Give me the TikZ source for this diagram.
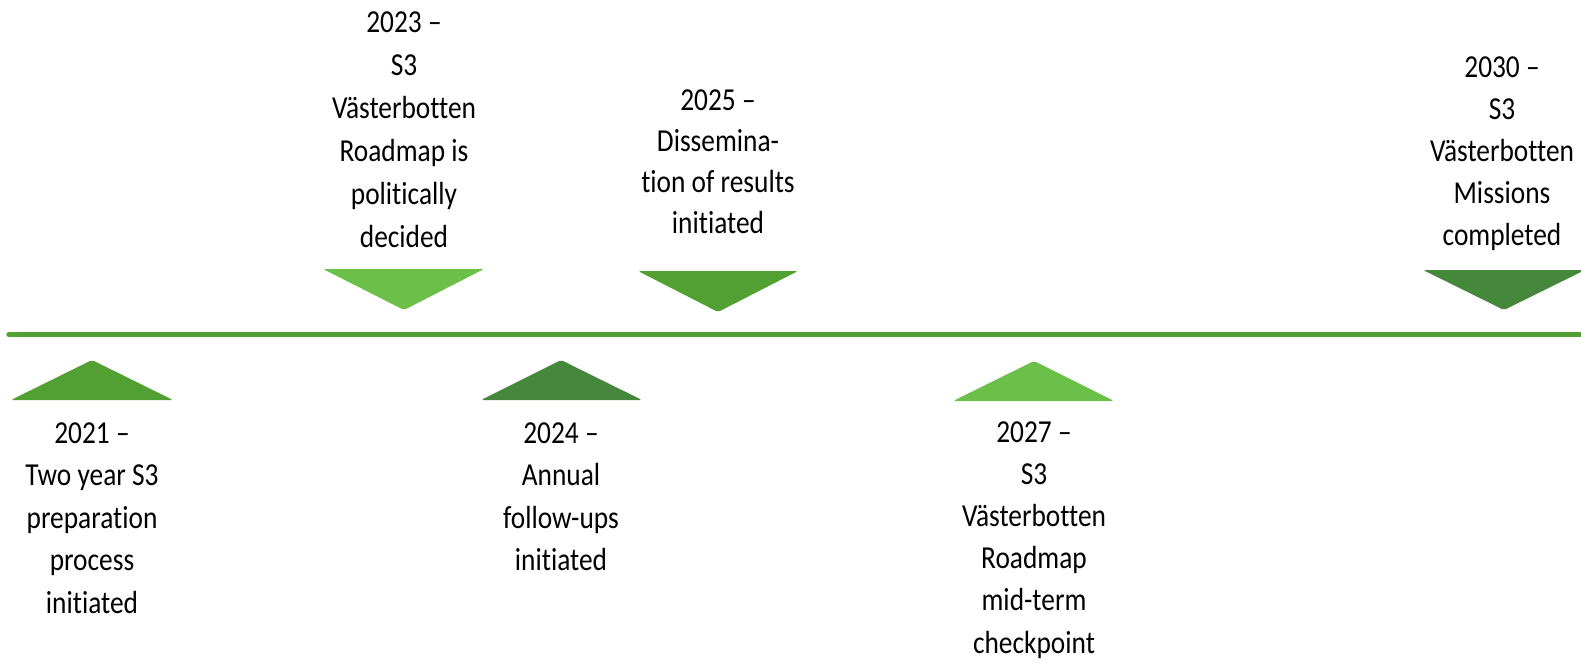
\documentclass[tikz,border=0pt]{standalone}
\usepackage{fontspec}
\setmainfont{Carlito}[FakeStretch=0.855,Ligatures={NoCommon}]
\definecolor{gLight}{RGB}{108,192,74}
\definecolor{gMid}{RGB}{82,160,49}
\definecolor{gDark}{RGB}{69,136,59}
\newcommand\mslines[2][42.5pt]{\vtop{\baselineskip=#1\relax\let\\\cr\halign{\hfil##\hfil\cr#2\crcr}}}
\begin{document}
\begin{tikzpicture}[x=1pt,y=-1pt,
  lbl/.style={anchor=base,inner sep=0pt,font=\fontsize{32pt}{42.5pt}\selectfont},
  tri/.style={rounded corners=1.8pt,line join=round}]
\useasboundingbox (0,0) rectangle (1581,664);
% timeline
\coordinate (tlstart) at (9,334.5);
\coordinate (tlend) at (1600,334.5);
\draw[gMid,line width=5.5pt,line cap=round] (tlstart) -- (tlend);
% triangles
\fill[gMid,tri] (11,400) -- (92,360) -- (173,400) -- cycle;
\fill[gLight,tri] (323,269) -- (484,269) -- (404,310) -- cycle;
\fill[gDark,tri] (481,400) -- (561,360) -- (642,400) -- cycle;
\fill[gMid,tri] (638,271) -- (798,271) -- (718,312) -- cycle;
\fill[gLight,tri] (953,401) -- (1034,361) -- (1114,401) -- cycle;
\fill[gDark,tri] (1423,270) -- (1585,270) -- (1504,310) -- cycle;
% labels
\node[lbl] (t2021) at (92,443) {\mslines{2021 –\\Two year S3\\preparation\\process\\initiated}};
\node[lbl] (t2023) at (404,32) {\mslines[43pt]{2023 –\\S3\\Västerbotten\\Roadmap is\\politically\\decided}};
\node[lbl] (t2024) at (561,443) {\mslines{2024 –\\Annual\\follow-ups\\initiated}};
\node[lbl] (t2025) at (718,110) {\mslines[41.2pt]{2025 –\\Dissemina-\\tion of results\\initiated}};
\node[lbl] (t2027) at (1034,442) {\mslines[42.2pt]{2027 –\\S3\\Västerbotten\\Roadmap\\mid-term\\checkpoint}};
\node[lbl] (t2030) at (1502,77) {\mslines[42pt]{2030 –\\S3\\Västerbotten\\Missions\\completed}};
\end{tikzpicture}
\end{document}
